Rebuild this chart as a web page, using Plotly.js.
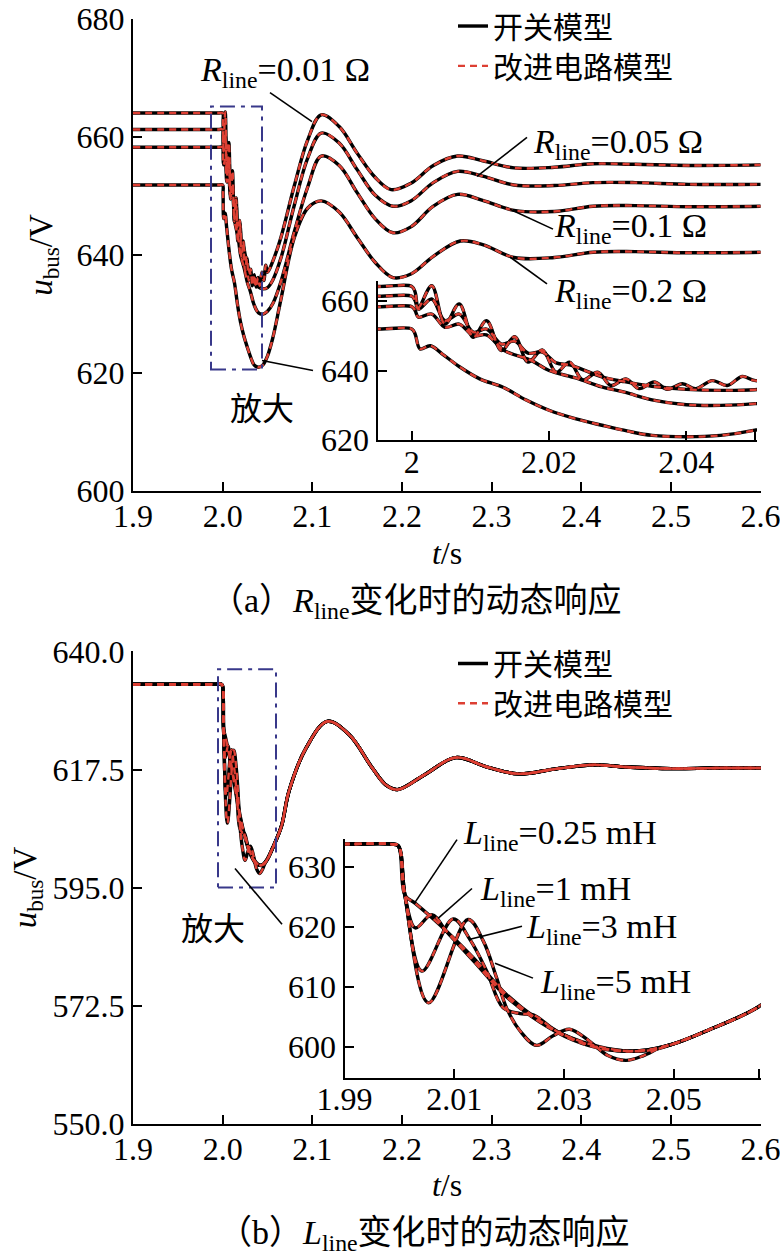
<!DOCTYPE html>
<html>
<head>
<meta charset="utf-8">
<script src="https://cdn.plot.ly/plotly-3.0.1.min.js"></script>
<style>
html,body{margin:0;padding:0;background:#fff;}
#chart{width:780px;height:1260px;}
</style>
</head>
<body>
<div id="chart"></div>
<script>
// ---------------- DATA: panel (a), R_line varies ----------------
const tR001 = [1.9, 1.995, 2.0, 2.00048, 2.00096, 2.0029, 2.00483, 2.00691, 2.00895, 2.01088, 2.01306, 2.01499, 2.01693, 2.01901, 2.02104, 2.02298, 2.02491, 2.02709, 2.02902, 2.0312, 2.03314, 2.03531, 2.03725, 2.03942, 2.04136, 2.04378, 2.04596, 2.04813, 2.05007, 2.056, 2.065, 2.08, 2.095, 2.11, 2.13, 2.15, 2.17, 2.188, 2.21, 2.235, 2.262, 2.29, 2.325, 2.37, 2.413, 2.46, 2.52, 2.6];
const vR001 = [664.1, 664.1, 664.1, 662.5, 658.1, 664.3, 653.3, 659.1, 649.5, 654.3, 645.7, 649.7, 642.4, 645.9, 639.5, 642.4, 637.3, 639.5, 635.7, 637.6, 634.8, 636.7, 634.6, 636.2, 634.8, 637.1, 635.7, 638.3, 637.1, 639.0, 643.0, 651.8, 659.6, 663.8, 661.8, 657.3, 653.2, 651.1, 652.2, 655.2, 656.8, 656.0, 654.8, 654.9, 655.5, 655.4, 655.2, 655.3];

const tR005 = [1.9, 1.995, 2.0, 2.00048, 2.00096, 2.0029, 2.00483, 2.00691, 2.00895, 2.01088, 2.01306, 2.01499, 2.01693, 2.01901, 2.02104, 2.023, 2.025, 2.0277, 2.031, 2.035, 2.04, 2.045, 2.05, 2.056, 2.065, 2.08, 2.095, 2.11, 2.13, 2.15, 2.17, 2.19, 2.21, 2.235, 2.262, 2.29, 2.325, 2.37, 2.413, 2.46, 2.52, 2.6];
const vR005 = [661.3, 661.3, 661.3, 660.0, 657.6, 660.5, 654.3, 656.2, 651.0, 651.9, 647.6, 648.4, 645.0, 645.3, 642.2, 641.6, 640.2, 638.2, 636.8, 635.5, 634.6, 634.3, 634.5, 635.8, 639.5, 648.5, 656.5, 660.7, 659.0, 654.5, 650.2, 648.3, 649.2, 652.3, 654.2, 653.4, 651.9, 651.8, 652.3, 652.3, 652.0, 652.0];

const tR01 = [1.9, 1.995, 2.0, 2.00048, 2.00096, 2.0029, 2.00483, 2.00691, 2.00895, 2.01088, 2.0135, 2.0174, 2.02, 2.024, 2.0277, 2.031, 2.035, 2.04, 2.045, 2.05, 2.056, 2.065, 2.08, 2.095, 2.11, 2.13, 2.15, 2.17, 2.19, 2.21, 2.235, 2.262, 2.29, 2.325, 2.37, 2.413, 2.46, 2.52, 2.6];
const vR01 = [658.3, 658.3, 658.3, 657.2, 655.3, 656.2, 652.4, 653.3, 650.0, 650.2, 645.7, 642.9, 640.0, 637.8, 635.3, 633.8, 631.6, 630.2, 630.0, 630.5, 631.8, 635.5, 644.0, 651.6, 656.8, 655.2, 650.6, 646.2, 643.8, 644.8, 648.3, 650.3, 649.3, 647.6, 647.4, 648.3, 648.4, 648.2, 648.3];

const tR02 = [1.9, 1.995, 2.0, 2.00048, 2.0012, 2.0027, 2.0044, 2.0070, 2.0099, 2.0133, 2.0166, 2.02, 2.0238, 2.0277, 2.0315, 2.035, 2.04, 2.045, 2.05, 2.056, 2.065, 2.08, 2.095, 2.11, 2.13, 2.15, 2.17, 2.19, 2.21, 2.235, 2.265, 2.29, 2.325, 2.37, 2.413, 2.46, 2.52, 2.6];
const vR02 = [651.9, 651.9, 651.9, 650.5, 646.2, 647.1, 644.8, 641.0, 637.6, 635.2, 631.6, 628.6, 626.2, 624.3, 622.6, 621.4, 621.0, 621.4, 622.9, 626.0, 632.5, 643.0, 648.0, 649.2, 647.3, 643.0, 638.8, 636.2, 636.8, 639.8, 642.4, 641.8, 639.6, 639.6, 640.5, 640.6, 640.4, 640.5];

// ---------------- DATA: panel (b), L_line varies ----------------
const tL025 = [1.9, 1.99, 1.9985, 1.9998, 2.001, 2.0029, 2.0074, 2.0135, 2.0195, 2.0256, 2.0316, 2.0377, 2.0438, 2.0498, 2.0559];
const vL025 = [633.8, 633.8, 633.8, 633.5, 625.3, 623.9, 620.3, 614.8, 608.7, 604.3, 601.3, 599.6, 599.3, 600.4, 602.6];

const tL1 = [1.9, 1.99, 1.9985, 1.9998, 2.001, 2.0029, 2.0059, 2.0086, 2.0135, 2.0195, 2.0256, 2.0316, 2.0377, 2.0438, 2.0498, 2.0559];
const vL1 = [633.8, 633.8, 633.8, 633.5, 625.3, 619.8, 622.0, 619.2, 614.3, 608.3, 604.1, 601.1, 599.5, 599.3, 600.4, 602.6];

const tL3 = [1.9, 1.99, 1.9985, 1.9998, 2.001, 2.0041, 2.0098, 2.0129, 2.0159, 2.0189, 2.022, 2.0244, 2.0286, 2.0347, 2.0407, 2.046, 2.0498, 2.0559];
const vL3 = [633.8, 633.8, 633.8, 633.5, 625.3, 612.6, 621.3, 617.8, 612.6, 606.5, 605.5, 605.3, 602.6, 600.4, 599.3, 599.4, 600.4, 602.6];

const tL5 = [1.9, 1.99, 1.9985, 1.9998, 2.001, 2.0053, 2.0125, 2.0153, 2.0177, 2.0195, 2.022, 2.025, 2.028, 2.031, 2.0345, 2.038, 2.0413, 2.0445, 2.0475, 2.0498, 2.0559];
const vL5 = [633.8, 633.8, 633.8, 633.5, 625.3, 607.3, 621.2, 617.6, 611.5, 606.5, 602.6, 600.2, 601.8, 602.9, 601.0, 598.5, 597.7, 598.5, 599.8, 600.4, 602.6];

// common tail after the fast transient (all L_line curves coincide)
const tTailL = [2.0657, 2.074, 2.093, 2.1167, 2.141, 2.167, 2.182, 2.195, 2.225, 2.26, 2.295, 2.33, 2.37, 2.412, 2.45, 2.5, 2.55, 2.6];
const vTailL = [606.8, 613.4, 621.6, 626.7, 624.2, 617.8, 614.6, 613.7, 616.5, 619.8, 618.0, 616.7, 617.6, 618.4, 618.0, 617.7, 617.8, 617.8];

// ---------------- TICKS & LABELS ----------------
const xTicksMain = [1.9, 2.0, 2.1, 2.2, 2.3, 2.4, 2.5, 2.6];
const xTickTextMain = ['1.9', '2.0', '2.1', '2.2', '2.3', '2.4', '2.5', '2.6'];
const yTicksA = [600, 620, 640, 660, 680];
const yTicksInsetA = [620, 640, 660];
const xTicksInsetA = [2, 2.02, 2.04, 2.05];
const xTickTextInsetA = ['2', '2.02', '2.04', ''];
const yTicksB = [550, 572.5, 595, 617.5, 640];
const yTickTextB = ['550.0', '572.5', '595.0', '617.5', '640.0'];
const yTicksInsetB = [600, 610, 620, 630];
const xTicksInsetB = [1.99, 2.01, 2.03, 2.05, 2.0655];
const xTickTextInsetB = ['1.99', '2.01', '2.03', '2.05', ''];

const legendNames = ['开关模型', '改进电路模型'];
const labelsA = ['<i>R</i><sub>line</sub>=0.01 Ω', '<i>R</i><sub>line</sub>=0.05 Ω', '<i>R</i><sub>line</sub>=0.1 Ω', '<i>R</i><sub>line</sub>=0.2 Ω'];
const labelsB = ['<i>L</i><sub>line</sub>=0.25 mH', '<i>L</i><sub>line</sub>=1 mH', '<i>L</i><sub>line</sub>=3 mH', '<i>L</i><sub>line</sub>=5 mH'];
const captionA = '（a）<i>R</i><sub>line</sub>变化时的动态响应';
const captionB = '（b）<i>L</i><sub>line</sub>变化时的动态响应';
const zoomText = '放大';

// ---------------- BUILD ----------------
const W = 780, H = 1260;
const X = p => p / W;
const Y = p => 1 - p / H;
const BLACK = '#000000', RED = '#dd3f33', BOX = '#38388a';
const SERIF = 'Liberation Serif';
const CJK = 'Liberation Serif, Noto Sans CJK SC';

const curvesA = [[tR001, vR001], [tR005, vR005], [tR01, vR01], [tR02, vR02]];
const curvesB = [[tL025, vL025], [tL1, vL1], [tL3, vL3], [tL5, vL5]].map(c => [c[0].concat(tTailL), c[1].concat(vTailL)]);

const traces = [];
function addSet(curves, axesList, legendIds) {
  // black (switch model) first, then red dashed (improved circuit model)
  [0, 1].forEach(kind => {
    curves.forEach((c, ci) => {
      axesList.forEach((axp, ai) => {
        const first = ci === 0 && ai === 0;
        traces.push({
          type: 'scatter', mode: 'lines', x: c[0], y: c[1],
          xaxis: axp[0], yaxis: axp[1],
          name: legendNames[kind], legend: legendIds[kind],
          showlegend: first,
          hoverinfo: 'skip',
          line: kind === 0
            ? {color: BLACK, width: 3.4, shape: 'spline', smoothing: 1}
            : {color: RED, width: 2.4, dash: '7px,5px', shape: 'spline', smoothing: 1}
        });
      });
    });
  });
}
addSet(curvesA, [['x', 'y'], ['x2', 'y2']], ['legend', 'legend2']);
addSet(curvesB, [['x3', 'y3'], ['x4', 'y4']], ['legend3', 'legend4']);

function mkAxis(o) {
  return Object.assign({
    showline: true, linecolor: BLACK, linewidth: 2, mirror: false,
    ticks: 'inside', ticklen: 9, tickwidth: 2, tickcolor: BLACK,
    showgrid: false, zeroline: false, fixedrange: true,
    ticklabeloverflow: 'allow',
    tickfont: {family: SERIF, size: 32, color: BLACK}
  }, o);
}
function yTitle(st) { return {text: '<i>u</i><sub>bus</sub>/V', standoff: st, font: {family: SERIF, size: 33, color: BLACK}}; }
function xTitle(st) { return {text: '<i>t</i>/s', standoff: st, font: {family: SERIF, size: 32, color: BLACK}}; }
function mkLegend(px, py) {
  return {x: X(px), y: Y(py), xanchor: 'left', yanchor: 'top', bgcolor: 'rgba(0,0,0,0)',
          font: {family: 'Noto Sans CJK SC', size: 30, color: BLACK}, tracegroupgap: 0, itemwidth: 30};
}

const layout = {
  width: W, height: H,
  margin: {l: 0, r: 0, t: 0, b: 0},
  paper_bgcolor: '#ffffff', plot_bgcolor: 'rgba(0,0,0,0)',
  font: {family: SERIF, size: 32, color: BLACK},
  showlegend: true,
  xaxis: mkAxis({domain: [X(133), X(761)], range: [1.9, 2.6005], anchor: 'y', tickmode: 'array', tickvals: xTicksMain, ticktext: xTickTextMain, ticklabelstandoff: -4, title: xTitle(8)}),
  yaxis: mkAxis({domain: [Y(488), Y(14)], range: [600, 680.05], anchor: 'x', tickmode: 'array', tickvals: yTicksA, title: yTitle(14)}),
  xaxis2: mkAxis({domain: [X(377.5), X(757)], range: [1.995, 2.0503], anchor: 'y2', tickmode: 'array', tickvals: xTicksInsetA, ticktext: xTickTextInsetA, ticklabelstandoff: -8}),
  yaxis2: mkAxis({domain: [Y(437), Y(277)], range: [620, 665.7], anchor: 'x2', tickmode: 'array', tickvals: yTicksInsetA}),
  xaxis3: mkAxis({domain: [X(133), X(761)], range: [1.9, 2.6005], anchor: 'y3', tickmode: 'array', tickvals: xTicksMain, ticktext: xTickTextMain, ticklabelstandoff: -4, title: xTitle(8)}),
  yaxis3: mkAxis({domain: [Y(1123), Y(649)], range: [550, 640.05], anchor: 'x3', tickmode: 'array', tickvals: yTicksB, ticktext: yTickTextB, title: yTitle(6)}),
  xaxis4: mkAxis({domain: [X(344.5), X(760.5)], range: [1.99, 2.0658], anchor: 'y4', tickmode: 'array', tickvals: xTicksInsetB, ticktext: xTickTextInsetB, ticklabelstandoff: -8}),
  yaxis4: mkAxis({domain: [Y(1077), Y(837)], range: [594.8, 634.7], anchor: 'x4', tickmode: 'array', tickvals: yTicksInsetB}),
  legend: mkLegend(453, -5),
  legend2: mkLegend(453, 35),
  legend3: mkLegend(453, 635),
  legend4: mkLegend(453, 675),
  shapes: [],
  annotations: []
};

function leader(x0, y0, x1, y1) {
  layout.shapes.push({type: 'line', xref: 'paper', yref: 'paper', x0: X(x0), y0: Y(y0), x1: X(x1), y1: Y(y1),
                      line: {color: BLACK, width: 1.6}});
}
function label(text, cx, cy, size, fam) {
  layout.annotations.push({text: text, xref: 'paper', yref: 'paper', x: X(cx), y: Y(cy),
                           xanchor: 'center', yanchor: 'middle', showarrow: false,
                           font: {family: fam || SERIF, size: size || 34, color: BLACK}});
}
function box(x0, y0, x1, y1) {
  layout.shapes.push({type: 'rect', xref: 'paper', yref: 'paper', x0: X(x0), y0: Y(y1), x1: X(x1), y1: Y(y0),
                      line: {color: BOX, width: 2, dash: '15px,6px,4px,6px'}, fillcolor: 'rgba(0,0,0,0)'});
}

// panel (a) callouts
box(211, 102, 262, 366);
leader(262, 357, 313, 367);
label(zoomText, 262, 403, 32, 'Noto Sans CJK SC');
leader(270, 88, 312, 117);
label(labelsA[0], 285, 67);
leader(527, 133, 477, 172);
label(labelsA[1], 618, 140);
leader(553, 225, 510, 205);
label(labelsA[2], 630, 224);
leader(547, 280, 510, 253);
label(labelsA[3], 630, 289);
label(captionA, 416, 600, 34, CJK);

// panel (b) callouts
box(218, 667, 276, 886);
leader(235, 867, 282, 923);
label(zoomText, 213, 925, 32, 'Noto Sans CJK SC');
leader(457, 838, 415, 901);
label(labelsB[0], 560, 833);
leader(472, 887, 438, 917);
label(labelsB[1], 555, 890);
leader(522, 925, 470, 938);
label(labelsB[2], 601, 928);
leader(533, 977, 495, 962);
label(labelsB[3], 615, 983);
label(captionB, 424, 1235, 34, CJK);

Plotly.newPlot('chart', traces, layout, {staticPlot: true, displayModeBar: false});
</script>
</body>
</html>
